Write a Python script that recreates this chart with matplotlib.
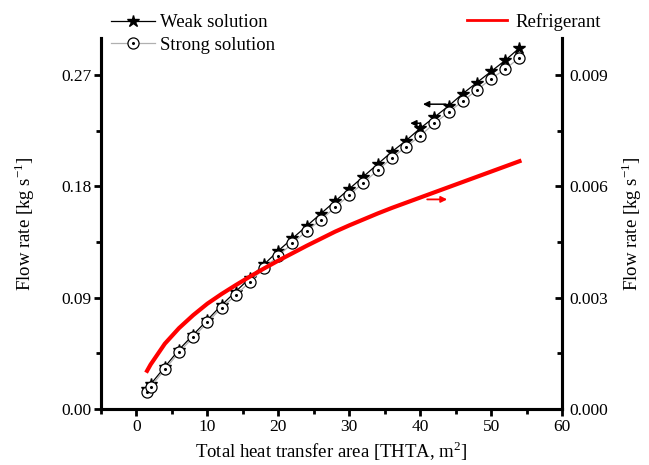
import matplotlib.pyplot as plt
from matplotlib.lines import Line2D
from matplotlib.legend_handler import HandlerTuple
from matplotlib.ticker import MultipleLocator

plt.rcParams['font.family'] = ['Liberation Serif', 'DejaVu Serif']
plt.rcParams['mathtext.fontset'] = 'custom'
plt.rcParams['mathtext.rm'] = 'Liberation Serif'

# Total heat transfer area [m2]
area = [1.5, 2, 4, 6, 8, 10, 12, 14, 16, 18, 20, 22, 24, 26, 28, 30,
        32, 34, 36, 38, 40, 42, 44, 46, 48, 50, 52, 54]
# Solution flow rates [kg/s] (left axis)
weak = [0.016, 0.020, 0.034, 0.048, 0.060, 0.072, 0.084, 0.095, 0.106,
        0.117, 0.128, 0.138, 0.148, 0.158, 0.168, 0.178, 0.188, 0.198,
        0.208, 0.217, 0.227, 0.236, 0.245, 0.255, 0.264, 0.273, 0.282,
        0.292]
strong = [0.014, 0.018, 0.032, 0.046, 0.058, 0.070, 0.082, 0.092, 0.103,
          0.114, 0.124, 0.134, 0.144, 0.153, 0.163, 0.173, 0.183, 0.193,
          0.203, 0.212, 0.221, 0.231, 0.240, 0.249, 0.258, 0.267, 0.275,
          0.284]
# Refrigerant flow rate [kg/s] (right axis)
refrigerant = [0.00103, 0.00120, 0.00176, 0.00218, 0.00253, 0.00284,
               0.00310, 0.00334, 0.00357, 0.00379, 0.00400, 0.00420,
               0.00440, 0.00459, 0.00478, 0.00495, 0.00511, 0.00527,
               0.00542, 0.00556, 0.00570, 0.00584, 0.00598, 0.00612,
               0.00626, 0.00640, 0.00654, 0.00668]

fig = plt.figure(figsize=(6.49, 4.65), dpi=100)
ax = fig.add_axes([0.1556, 0.1204, 0.7104, 0.7978])
ax2 = ax.twinx()

l_weak, = ax.plot(area, weak, color='black', lw=0.9, marker='*', ms=9,
                  mfc='black', mec='black', zorder=3)
l_strong, = ax.plot(area, strong, color='#b0b0b0', lw=0.9, marker='o', ms=8,
                    mfc='white', mec='black', mew=0.9, zorder=4)
d_strong, = ax.plot(area, strong, ls='none', marker='o', ms=1.2,
                    color='black', zorder=5)
ax2.plot(area, refrigerant, color='#ff0000', lw=3)

ax.set_xlim(-5, 60)
ax.set_ylim(0, 0.30)
ax2.set_ylim(0, 0.010)
ax.xaxis.set_major_locator(MultipleLocator(10))
ax.xaxis.set_minor_locator(MultipleLocator(5))
ax.yaxis.set_major_locator(MultipleLocator(0.09))
ax.yaxis.set_minor_locator(MultipleLocator(0.045))
ax2.yaxis.set_major_locator(MultipleLocator(0.003))
ax2.yaxis.set_minor_locator(MultipleLocator(0.0015))
ax.yaxis.set_major_formatter(plt.FormatStrFormatter('%.2f'))
ax2.yaxis.set_major_formatter(plt.FormatStrFormatter('%.3f'))

for a in (ax, ax2):
    a.spines['top'].set_visible(False)
    for s in a.spines.values():
        s.set_linewidth(2.2)
ax.tick_params(which='major', direction='out', length=5, width=2,
               labelsize=12.5, pad=2)
ax.tick_params(which='minor', direction='out', length=3.5, width=2)
ax2.tick_params(which='major', direction='in', length=5, width=2,
                labelsize=12.5, pad=5)
ax2.tick_params(which='minor', direction='in', length=3.5, width=2)

ax.set_xlabel('Total heat transfer area [THTA, m$^2$]', fontsize=13.5,
              labelpad=3)
ax.set_ylabel('Flow rate [kg s$^{-1}$]', fontsize=13.5, labelpad=17)
ax2.set_ylabel('Flow rate [kg s$^{-1}$]', fontsize=13.5, labelpad=8,
               rotation=90)

# arrows pointing each curve to its axis
arrow_k = dict(arrowstyle='-|>', color='black', lw=1.1, mutation_scale=9)
ax.annotate('', xy=(40.0, 0.2465), xytext=(44.0, 0.2465), arrowprops=arrow_k)
ax.annotate('', xy=(38.2, 0.2311), xytext=(40.4, 0.2311), arrowprops=arrow_k)
ax2.annotate('', xy=(44.2, 0.00565), xytext=(40.6, 0.00565),
             arrowprops=dict(arrowstyle='-|>', color='#ff0000', lw=1.3,
                             mutation_scale=9))

fig.legend([l_weak, (l_strong, d_strong)], ['Weak solution', 'Strong solution'],
           loc='upper left', bbox_to_anchor=(0.150, 1.0), frameon=False,
           fontsize=13.5, handlelength=2.3, handletextpad=0.3,
           labelspacing=0.3, borderpad=0.25,
           handler_map={tuple: HandlerTuple(ndivide=1, pad=0)})
ref_handle = Line2D([], [], color='#ff0000', lw=2)
fig.legend([ref_handle], ['Refrigerant'], loc='upper left',
           bbox_to_anchor=(0.700, 1.0), frameon=False, fontsize=13.5,
           handlelength=2.1, handletextpad=0.45, borderpad=0.2)

fig.savefig('out.png', dpi=100)
